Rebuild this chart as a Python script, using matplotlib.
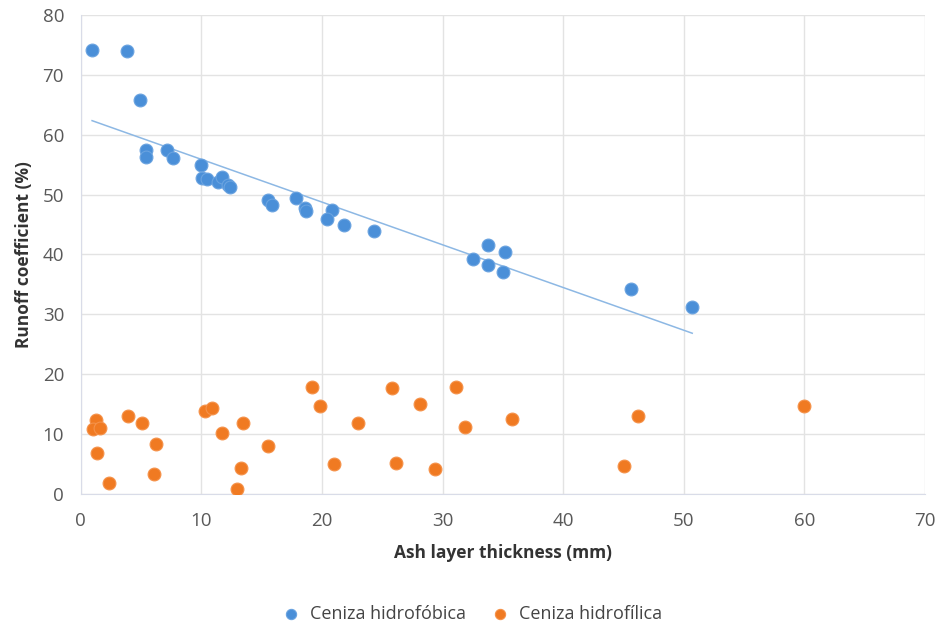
import numpy as np
import matplotlib.pyplot as plt

# Ceniza hidrofóbica (blue)
hydrophobic_x = [0.94, 3.84, 4.91, 5.40, 5.45, 7.12, 7.62, 9.94, 10.02, 10.49,
                 11.35, 11.68, 12.20, 12.37, 15.50, 15.88, 17.84, 18.60, 18.66,
                 20.85, 20.38, 21.84, 24.30, 33.80, 35.20, 32.50, 33.80, 35.00,
                 45.65, 50.70]
hydrophobic_y = [74.2, 74.0, 65.8, 57.4, 56.3, 57.4, 56.2, 55.0, 52.8, 52.6,
                 52.1, 53.0, 51.6, 51.2, 49.1, 48.2, 49.4, 47.7, 47.2,
                 47.4, 45.9, 45.0, 43.9, 41.6, 40.5, 39.3, 38.3, 37.0,
                 34.2, 31.3]

# Ceniza hidrofílica (orange)
hydrophilic_x = [1.27, 1.05, 1.60, 1.38, 2.34, 3.89, 5.10, 6.20, 6.07, 10.30,
                 10.85, 11.73, 13.47, 13.25, 12.95, 15.50, 19.14, 19.83, 20.99,
                 22.95, 25.77, 26.18, 28.17, 29.38, 31.15, 31.84, 35.73, 46.20,
                 45.07, 60.00]
hydrophilic_y = [12.3, 10.8, 11.0, 6.8, 1.9, 13.0, 11.9, 8.4, 3.4, 13.9,
                 14.3, 10.2, 11.8, 4.3, 0.8, 8.0, 17.9, 14.7, 5.0,
                 11.8, 17.7, 5.2, 15.1, 4.2, 17.9, 11.2, 12.5, 13.0,
                 4.7, 14.7]

blue = "#4A8FD8"
orange = "#F07A22"

plt.rcParams['font.family'] = ['Open Sans', 'DejaVu Sans']

fig = plt.figure(figsize=(9.41, 6.28), dpi=100)
ax = fig.add_axes([0.0858, 0.2134, 0.8972, 0.7627])

ax.scatter(hydrophobic_x, hydrophobic_y, s=85, color=blue, edgecolors="#6AA3E0",
           linewidths=0.8, zorder=3, label="Ceniza hidrofóbica")
ax.scatter(hydrophilic_x, hydrophilic_y, s=85, color=orange, edgecolors="#F5924A",
           linewidths=0.8, zorder=3, label="Ceniza hidrofílica")

# linear trend for the hydrophobic series
slope, intercept = np.polyfit(hydrophobic_x, hydrophobic_y, 1)
tx = np.array([min(hydrophobic_x), max(hydrophobic_x)])
ax.plot(tx, slope * tx + intercept, color="#8DB8E4", linewidth=1.1, zorder=2)

ax.set_xlim(0, 70)
ax.set_ylim(0, 80)
ax.set_xticks(range(0, 71, 10))
ax.set_yticks(range(0, 81, 10))
ax.grid(True, color="#E3E3E3", linewidth=1)
ax.set_axisbelow(True)
for side in ["top", "right"]:
    ax.spines[side].set_visible(False)
for side in ["left", "bottom"]:
    ax.spines[side].set_color("#D9DCE8")
ax.tick_params(length=0, labelsize=13.5, colors="#595959")
ax.tick_params(axis="y", pad=12)
ax.tick_params(axis="x", pad=13)

ax.set_xlabel("Ash layer thickness (mm)", fontsize=12.5, fontweight="bold",
              color="#333333", labelpad=10)
ax.set_ylabel("Runoff coefficient (%)", fontsize=12.5, fontweight="bold",
              color="#333333")
ax.yaxis.set_label_coords(-0.056, 0.5)

fig.legend(loc="center", bbox_to_anchor=(0.497, 0.022), ncol=2, frameon=False,
           fontsize=13, handletextpad=0.05, columnspacing=0.9, markerscale=0.8,
           labelcolor="#444444")

fig.savefig("out.png", dpi=100)
